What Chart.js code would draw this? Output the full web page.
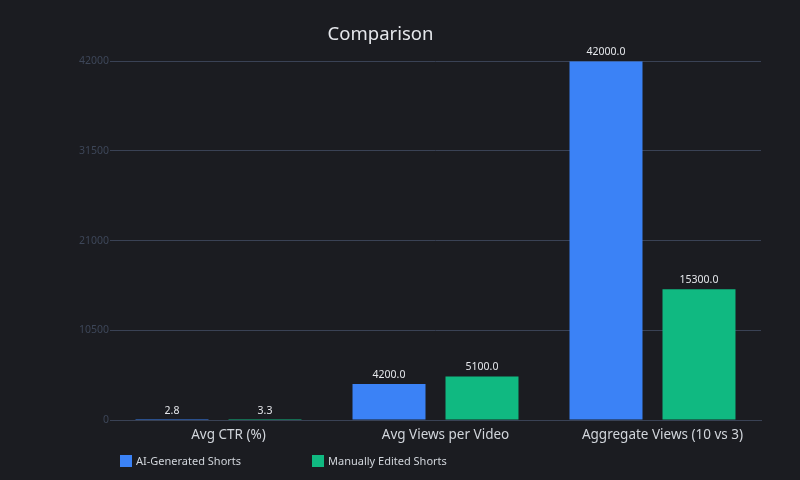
<!DOCTYPE html>
<html>
<head>
<meta charset="utf-8">
<script src="https://cdn.jsdelivr.net/npm/chart.js@4/dist/chart.umd.min.js"></script>
<style>
  html, body { margin: 0; padding: 0; background: #1b1c21; }
  #wrap { position: relative; width: 800px; height: 480px; }
  #legend { position: absolute; left: 0; top: 453px; font: 11px "Noto Sans", sans-serif; color: #d1d5db; }
  .item { position: absolute; top: 0; white-space: nowrap; line-height: 16px; }
  .box { display: inline-block; width: 12px; height: 12px; vertical-align: -2px; margin-right: 4px; }
</style>
</head>
<body>
<div id="wrap">
  <canvas id="myChart" width="800" height="480"></canvas>
  <div id="legend"></div>
</div>
<script>
// dati
categorie = ['Avg CTR (%)', 'Avg Views per Video', 'Aggregate Views (10 vs 3)']
datiAI = [2.8, 4200, 42000]
datiManual = [3.3, 5100, 15300]
nomiSerie = ['AI-Generated Shorts', 'Manually Edited Shorts']
coloriSerie = ['#3b82f6', '#10b981']
tickY = [0, 10500, 21000, 31500, 42000]

Chart.defaults.font.family = '"Noto Sans", sans-serif'

// etichette dei valori sopra le barre
const etichetteValori = {
    id: 'etichetteValori',
    afterDatasetsDraw(chart) {
        const ctx = chart.ctx
        ctx.save()
        ctx.font = '10.5px "Noto Sans", sans-serif'
        ctx.fillStyle = '#e5e7eb'
        ctx.textAlign = 'center'
        ctx.textBaseline = 'bottom'
        chart.data.datasets.forEach((ds, i) => {
            chart.getDatasetMeta(i).data.forEach((bar, j) => {
                ctx.fillText(ds.data[j].toFixed(1), bar.x, bar.y - 4)
            })
        })
        ctx.restore()
    }
}

const ctx = document.getElementById('myChart').getContext('2d')
const myChart = new Chart(ctx, {
    type: 'bar',
    data: {
        labels: categorie,
        datasets: [{
            label: nomiSerie[0],
            data: datiAI,
            backgroundColor: coloriSerie[0],
            borderWidth: 0
        }, {
            label: nomiSerie[1],
            data: datiManual,
            backgroundColor: coloriSerie[1],
            borderWidth: 0
        }]
    },
    options: {
        responsive: false,
        animation: false,
        categoryPercentage: 0.857,
        barPercentage: 0.785,
        layout: { padding: { left: 0, right: 39, top: 0, bottom: 20 } },
        plugins: {
            legend: { display: false },
            tooltip: { enabled: false },
            title: {
                display: true,
                text: 'Comparison',
                color: '#e5e7eb',
                font: { size: 18.5, weight: 'normal' },
                padding: { top: 24, bottom: 15 }
            }
        },
        scales: {
            x: {
                grid: { display: false, drawTicks: false },
                border: { color: '#3a4255' },
                ticks: { color: '#d1d5db', font: { size: 13.5 }, padding: 7, labelOffset: 10 },
                afterFit: (axis) => { axis.height = 40 }
            },
            y: {
                min: 0,
                max: 42000,
                afterBuildTicks: (axis) => { axis.ticks = tickY.map(v => ({ value: v })) },
                grid: { color: '#3a4255', drawTicks: false },
                border: { display: false },
                ticks: { color: '#3d4658', font: { size: 10.5 }, padding: 1, callback: v => String(v) },
                afterFit: (axis) => { axis.width = 110 }
            }
        }
    },
    plugins: [etichetteValori]
})

// legenda in html, con le posizioni del riferimento
const legenda = document.getElementById('legend')
const posLegenda = [120, 312]
nomiSerie.forEach((nome, i) => {
    const el = document.createElement('div')
    el.className = 'item'
    el.style.left = posLegenda[i] + 'px'
    el.innerHTML = '<span class="box" style="background:' + coloriSerie[i] + '"></span>' + nome
    legenda.appendChild(el)
})
</script>
</body>
</html>
